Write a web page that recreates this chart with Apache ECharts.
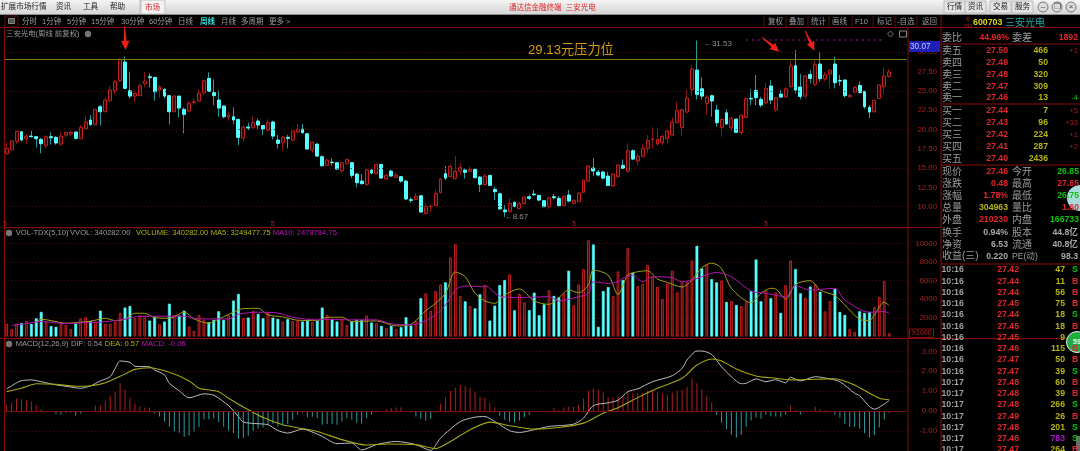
<!DOCTYPE html>
<html>
<head>
<meta charset="utf-8">
<title>三安光电 周线</title>
<script src="https://cdn.jsdelivr.net/npm/echarts@6/dist/echarts.min.js"></script>
<style>
  html, body { margin: 0; padding: 0; background: #000; overflow: hidden; }
  #chart { width: 1080px; height: 451px; filter: blur(0.3px); }
</style>
</head>
<body>
<div id="chart"></div>
<script>
// ── DATA ───────────────────────────────────────────
const opens = [
  16.86,17.38,18.46,19.71,18.81,19.15,19.07,18.72,17.90,19.07,
  18.98,18.12,19.28,19.41,19.67,18.81,20.10,21.23,20.62,22.95,
  22.30,23.73,25.02,26.32,28.74,25.02,24.33,24.38,25.93,26.84,
  26.75,25.11,25.20,24.38,22.30,24.33,22.61,22.39,23.51,23.69,
  24.77,26.62,24.77,23.82,23.04,21.57,21.66,21.31,18.89,20.32,
  20.23,21.10,20.53,19.93,20.97,18.64,18.29,18.98,18.64,19.67,
  20.06,19.45,17.34,18.12,16.48,15.35,15.78,15.70,14.66,15.57,
  15.70,14.23,13.32,12.89,14.75,14.27,15.48,13.58,14.62,13.80,
  13.89,13.32,10.91,10.95,11.42,9.13,10.00,10.17,11.81,14.27,
  13.89,13.63,14.62,14.75,14.58,14.84,13.84,12.85,14.06,12.24,
  11.68,9.57,9.35,10.56,9.78,10.39,11.29,11.64,11.47,10.78,
  10.00,11.29,11.08,10.13,11.51,10.43,10.65,11.86,13.32,15.01,
  14.49,14.49,13.97,12.68,13.89,15.35,14.58,17.25,15.91,16.52,
  17.55,18.72,18.12,18.29,18.85,19.28,20.92,20.28,22.26,25.20,
  27.70,25.28,23.38,24.38,22.52,20.28,22.17,20.23,21.35,19.58,
  21.57,24.03,25.07,23.90,23.43,25.63,22.52,24.59,24.20,25.54,
  28.26,25.50,24.33,27.14,25.85,28.48,26.54,27.18,28.48,26.36,
  26.41,24.25,24.85,25.71,24.94,22.87,22.30,24.03,25.54,26.85
];
const closes = [
  17.55,18.51,19.76,18.64,19.15,19.07,18.81,18.16,19.07,18.94,
  18.25,19.15,19.63,19.63,18.85,20.28,20.97,20.66,22.61,22.30,
  23.82,25.11,26.19,29.08,25.33,24.33,24.68,25.67,26.28,26.71,
  24.89,25.54,24.33,22.30,24.33,22.78,21.96,23.38,23.60,24.68,
  26.32,24.94,24.38,22.78,21.66,21.87,21.23,18.98,20.28,20.19,
  20.92,20.58,20.06,20.92,19.15,18.20,18.98,18.85,19.80,20.02,
  19.58,17.47,18.38,16.56,15.31,16.04,15.70,14.88,15.70,16.13,
  14.06,13.11,12.98,14.79,14.36,15.48,13.71,14.06,13.97,14.10,
  13.32,10.99,10.82,11.34,9.31,10.04,10.09,11.73,13.58,13.71,
  15.22,14.58,15.05,14.45,14.84,13.76,12.89,13.97,12.76,11.94,
  9.70,9.35,10.43,10.04,10.39,11.25,11.08,11.55,10.86,10.00,
  11.16,11.16,10.13,11.34,10.73,10.82,11.77,13.45,15.27,14.62,
  14.10,13.71,12.76,14.19,15.40,14.96,17.25,16.17,16.56,17.55,
  18.59,18.81,18.72,19.11,19.80,20.97,22.48,22.56,24.07,27.83,
  24.55,24.33,24.16,23.69,20.88,21.31,20.71,21.44,19.63,21.87,
  23.99,23.95,24.12,23.17,25.33,23.82,24.12,24.20,25.28,28.22,
  25.11,24.29,26.93,26.62,28.39,26.58,27.10,27.66,26.06,26.28,
  24.38,24.42,25.46,24.77,22.95,22.26,23.77,25.76,26.93,27.46
];
const lows = [
  16.78,17.25,18.12,18.46,18.12,18.98,17.68,16.91,17.60,18.07,
  18.03,17.86,18.94,19.20,18.72,18.81,20.02,20.45,20.53,20.53,
  22.26,23.60,24.59,26.23,25.28,23.99,23.60,24.33,25.46,25.46,
  23.73,24.16,24.03,20.66,22.26,21.57,19.50,22.30,23.17,23.64,
  24.46,24.85,23.17,21.66,21.44,21.14,20.71,17.99,18.42,19.93,
  20.15,20.02,19.28,19.71,18.72,17.55,17.25,17.55,18.42,19.50,
  19.50,17.42,16.99,16.48,15.18,15.27,15.35,14.75,14.32,15.53,
  13.71,12.50,12.89,12.76,14.19,14.19,13.63,13.45,13.89,13.71,
  13.11,10.86,10.52,10.86,9.22,9.00,9.31,10.09,11.73,13.45,
  13.80,13.54,14.10,13.63,14.49,13.67,11.90,12.76,12.68,10.86,
  9.61,8.67,9.26,9.91,9.65,10.35,10.86,11.38,10.69,9.91,
  9.70,10.95,10.04,10.09,10.60,10.35,10.60,11.81,13.24,13.97,
  13.89,13.54,12.68,12.59,13.80,14.92,14.40,16.04,15.35,16.39,
  16.99,17.55,17.94,17.94,18.20,19.15,20.79,19.20,22.09,24.33,
  23.90,23.90,21.87,21.66,20.36,19.07,20.66,19.71,19.58,19.28,
  21.48,23.17,23.12,22.87,23.30,23.30,22.30,24.12,24.12,25.46,
  24.68,23.90,23.99,25.97,25.63,26.19,26.28,25.28,25.33,25.63,
  24.16,24.16,24.68,24.68,22.69,21.48,22.17,23.95,24.59,26.75
];
const highs = [
  18.29,18.64,19.84,19.80,19.41,19.84,19.15,18.89,19.28,19.63,
  19.15,19.71,19.71,19.84,19.76,20.58,21.74,21.87,22.69,23.17,
  24.16,25.63,26.49,29.26,29.43,27.49,24.94,25.97,27.49,27.27,
  26.84,25.76,25.33,24.46,24.42,24.33,22.87,23.73,24.03,25.20,
  26.49,27.40,26.49,25.11,23.12,22.30,22.87,21.40,20.58,20.88,
  21.79,21.44,20.58,21.31,21.14,19.28,19.15,19.28,19.84,20.71,
  20.71,19.50,18.46,18.16,16.65,16.22,16.30,15.78,15.78,16.17,
  15.78,14.40,14.23,14.88,14.88,15.61,15.53,14.23,14.79,14.45,
  13.97,13.45,11.21,11.81,11.51,10.43,10.26,12.16,13.71,15.27,
  15.48,16.56,15.61,14.96,15.18,14.92,13.97,14.32,14.14,12.59,
  11.81,10.21,11.12,10.69,10.69,11.38,11.55,12.16,11.55,10.86,
  11.29,11.64,11.38,11.47,12.16,10.95,11.86,13.54,15.40,16.30,
  14.75,14.66,14.49,14.32,15.53,16.13,18.20,17.43,16.91,18.07,
  19.28,20.28,20.19,19.33,20.02,21.57,23.60,22.65,25.11,28.35,
  31.53,26.75,24.46,24.46,23.17,21.57,22.61,21.66,21.44,22.00,
  24.16,25.20,27.05,24.25,26.06,26.41,24.25,25.11,25.46,28.91,
  30.29,27.18,27.10,27.70,28.91,29.99,27.44,27.79,29.43,27.05,
  26.49,24.68,25.63,26.23,25.02,23.17,23.86,25.85,28.00,27.85
];
const volumes = [
  1390,790,1390,1430,1680,1360,1960,2640,1610,1110,
  1040,1390,1250,790,1390,1960,2070,1680,1610,2780,
  1360,1360,1610,2530,3110,3280,1960,2250,2210,1710,
  2140,1320,1610,3530,2320,2250,2780,1070,610,2320,
  1790,1540,1790,2710,1790,2320,3860,4570,2030,2030,
  2750,2430,1960,2610,2030,1890,1610,1860,1680,1680,
  1610,1750,1570,1710,3110,2320,1860,1610,1890,1250,
  1610,1790,1790,2250,1500,1430,1140,930,1140,820,
  1000,2070,1180,1710,4110,4640,2750,4890,5600,5820,
  8500,9920,4360,3780,3280,3030,4530,5530,1710,3320,
  5530,6070,6680,2820,4570,3680,2820,4710,2280,3460,
  4960,4360,4210,4640,7070,3390,5600,7250,10350,9890,
  1040,4890,5320,4360,7000,6070,9530,6850,5430,5680,
  7680,6430,5360,4030,5710,7070,4750,5820,5890,8180,
  9750,7320,7750,6180,5820,6030,3710,3820,3390,3280,
  3750,4890,8280,3780,4930,4110,4750,2530,5530,8180,
  7250,4640,4180,5360,5600,4820,2710,3820,5110,2640,
  2320,790,500,2710,2530,2640,3180,4250,5960,340
];
const macdBars = [
  0.32,0.43,0.63,0.58,0.55,0.48,0.30,0.10,0.02,0,
  -0.15,-0.18,-0.08,-0.07,-0.22,-0.12,-0.02,0.01,0.27,0.30,
  0.53,0.77,0.98,1.40,1.07,0.67,0.37,0.25,0.18,0.17,
  -0.12,-0.27,-0.52,-0.77,-1.02,-1.08,-1.30,-1.23,-1.02,-0.80,
  -0.40,-0.40,-0.37,-0.55,-0.77,-0.98,-1.10,-1.37,-1.35,-1.23,
  -0.98,-0.88,-0.82,-0.68,-0.63,-0.77,-0.65,-0.65,-0.43,-0.18,
  -0.07,-0.30,-0.28,-0.35,-0.68,-0.65,-0.65,-0.68,-0.52,-0.35,
  -0.43,-0.58,-0.63,-0.35,-0.18,0.03,0,0.10,0.17,0.18,
  0.20,0,-0.07,-0.27,-0.38,-0.47,-0.38,-0.05,0.37,0.68,
  1.03,1.17,1.32,1.27,1.17,0.98,0.72,0.68,0.43,0.20,
  -0.23,-0.43,-0.53,-0.57,-0.47,-0.30,-0.18,-0.02,0,0.02,
  0.01,0.17,0.05,0.18,0.22,0.23,0.32,0.62,1.02,1.15,
  1.08,0.95,0.70,0.70,0.75,0.75,0.92,0.90,0.90,0.90,
  1.03,1.02,0.98,0.87,0.82,0.93,1.03,1.08,1.22,1.65,
  1.40,1.10,0.77,0.42,-0.18,-0.58,-0.90,-1.18,-1.32,-1.18,
  -0.78,-0.47,-0.32,-0.38,-0.18,-0.25,-0.27,-0.28,-0.18,0.27,
  0.07,-0.17,0.02,0.02,0.22,0.10,0.05,0.02,-0.18,-0.32,
  -0.65,-0.78,-0.80,-0.88,-1.10,-1.32,-1.20,-0.82,-0.42,-0.08
];
// lines are read at the turning points: [bar index, value]
const ma5Line = [
  [6,1540],[7,1860],[9,1710],[12,1430],[15,1540],[17,1640],[20,1960],[22,1710],[24,1860],[26,2500],
  [28,2500],[30,2030],[33,1960],[36,2610],[38,1890],[41,1430],[43,1860],[46,2610],[48,3000],[51,3030],
  [53,2320],[56,2110],[59,1750],[63,1710],[65,2070],[68,2070],[70,1610],[75,1680],[79,1140],[82,1320],
  [85,2780],[87,3570],[89,4640],[91,6930],[93,6430],[95,4640],[97,3820],[99,3570],[101,4460],[104,5110],
  [107,3820],[110,3460],[112,4180],[114,5000],[116,4710],[118,5530],[119,7140],[122,6600],[124,4530],[126,6600],
  [128,6960],[130,7070],[132,6180],[134,5820],[137,5320],[139,6070],[141,7390],[143,7890],[145,7320],[147,5180],
  [151,3640],[153,4640],[155,5180],[156,5110],[158,4030],[160,5600],[163,6000],[165,5000],[168,4390],[170,3390],
  [173,1860],[175,1710],[176,2320],[178,3680],[179,3320]
];
const ma10Line = [
  [1,1180],[4,1390],[7,1610],[12,1390],[15,1460],[19,1540],[24,1860],[27,2180],[30,2180],[36,2180],
  [39,1890],[45,1890],[47,2390],[51,2610],[55,2530],[58,2070],[63,1790],[65,1860],[70,1790],[75,1790],
  [78,1360],[82,1250],[86,1960],[89,3390],[91,5000],[93,5430],[96,5360],[97,5430],[100,4360],[104,4180],
  [110,4280],[112,3820],[116,4280],[118,4640],[119,5890],[122,5710],[124,5890],[125,6250],[127,6600],[129,5890],
  [131,6430],[135,6320],[137,5890],[140,6250],[144,6890],[147,6430],[151,4890],[154,4640],[158,4280],[160,5460],
  [163,5000],[168,5180],[170,3930],[175,2610],[178,2680],[179,2500]
];
const difLine = [
  [0,1.12],[2,1.42],[3,1.53],[5,1.57],[7,1.48],[10,1.32],[12,1.25],[15,1.15],[17,1.27],[19,1.52],
  [21,1.73],[22,2.15],[23,2.52],[25,2.45],[26,2.25],[29,2.23],[30,2.07],[32,1.82],[33,1.40],[35,1.02],
  [37,0.67],[40,0.87],[42,0.80],[45,0.28],[47,-0.27],[48,-0.55],[51,-0.63],[53,-0.68],[55,-0.97],[57,-1.10],
  [60,-0.90],[63,-1.15],[64,-1.27],[67,-1.63],[70,-1.60],[72,-1.95],[75,-1.68],[79,-1.52],[83,-1.68],[86,-1.97],
  [88,-1.35],[92,-0.52],[95,-0.30],[97,-0.27],[99,-0.52],[102,-0.98],[104,-1.07],[107,-0.93],[110,-0.77],[115,-0.65],
  [117,-0.35],[119,0.28],[122,0.42],[124,0.55],[126,0.98],[128,1.12],[131,1.48],[135,1.78],[137,2.15],[138,2.57],
  [140,3.02],[141,3.02],[143,2.85],[145,2.23],[147,1.73],[149,1.38],[150,1.40],[152,1.62],[154,1.48],[156,1.58],
  [158,1.42],[159,1.70],[161,1.52],[164,1.73],[167,1.62],[169,1.48],[172,0.90],[173,0.78],[175,0.23],[176,0.10],[179,0.54]
];
const deaLine = [
  [0,0.98],[3,1.15],[6,1.38],[10,1.35],[14,1.25],[17,1.28],[20,1.43],[24,1.87],[26,2.10],[29,2.18],
  [33,1.95],[37,1.52],[39,1.15],[43,0.98],[45,0.65],[49,0.07],[52,-0.32],[56,-0.68],[59,-0.83],[63,-1.02],
  [68,-1.43],[73,-1.70],[77,-1.65],[83,-1.68],[87,-1.88],[90,-1.52],[94,-0.93],[98,-0.55],[102,-0.73],[107,-0.90],
  [112,-0.82],[117,-0.60],[121,-0.10],[124,0.17],[128,0.68],[132,1.15],[137,1.65],[140,2.32],[143,2.62],[145,2.52],
  [148,2.12],[152,1.77],[156,1.65],[159,1.57],[164,1.60],[168,1.63],[172,1.32],[175,0.90],[177,0.65],[179,0.57]
];
const priceLevels = [10, 15, 20, 25, 30];
const pressureLevel = 29.13;

// quote panel
const bookLabels = ['卖五','卖四','卖三','卖二','卖一','买一','买二','买三','买四','买五'];
const bookPrices = ['27.50','27.49','27.48','27.47','27.46','27.44','27.43','27.42','27.41','27.40'];
const bookVols   = ['466','50','320','309','13','7','96','224','287','2436'];
const bookDeltas = ['+1','','','','-4','+5','+33','+1','+2',''];
const tickTimes  = ['10:16','10:16','10:16','10:16','10:16','10:16','10:16','10:16','10:16','10:16','10:17','10:17','10:17','10:17','10:17','10:17','10:17'];
const tickPrices = ['27.42','27.44','27.44','27.45','27.44','27.45','27.45','27.46','27.47','27.47','27.48','27.48','27.48','27.49','27.48','27.46','27.47'];
const tickVols   = ['47','11','56','75','18','18','9','115','50','39','60','39','266','26','201','783','264'];
const tickSides  = ['S','B','B','B','S','B','S','B','B','S','B','B','S','B','S','S','B'];

// ── STYLE ──────────────────────────────────────────
const FONT = '"Liberation Sans","Noto Sans CJK SC",sans-serif';
const FRAME = '#8a0c0c';
const GRID = '#560e0e';
const AXIS_TXT = '#a82222';
const CYAN = '#55ffff';
const TEAL = '#2a9a9e';
const RED = '#c42020';
const DIMRED = '#8a1616';
const GRAY = '#9c9c9c';
const P_RED = '#e0262c';
const P_YEL = '#b4b412';
const P_GRN = '#0cc40c';

const categories = Array.from({ length: 183 }, (_, i) => String(i));
const isUp = i => closes[i] >= opens[i];
const wickData = opens.map((o, i) => [o, closes[i], lows[i], highs[i]]);
const bodyData = opens.map((o, i) => {
  const top = Math.max(o, closes[i]), bot = Math.min(o, closes[i]);
  return [o, closes[i], bot, top];
});

// ── GRAPHIC HELPERS ────────────────────────────────
const gfx = [];
function txt(text, x, y, fill, size, align, weight) {
  gfx.push({
    type: 'text', x, y, z: 20, silent: true,
    style: {
      text, fill, font: `${weight || 'normal'} ${size}px ${FONT}`,
      align: align || 'left', verticalAlign: 'middle',
      textAlign: align || 'left', textVerticalAlign: 'middle'
    }
  });
}
function rect(x, y, w, h, fill, stroke) {
  gfx.push({ type: 'rect', z: 15, silent: true, shape: { x, y, width: w, height: h },
    style: { fill: fill || 'none', stroke: stroke || 'none', lineWidth: 1 } });
}
function hline(x0, x1, y, color) {
  gfx.push({ type: 'line', z: 16, silent: true, shape: { x1: x0, y1: y, x2: x1, y2: y },
    style: { stroke: color || FRAME, lineWidth: 1 } });
}
function vline(x, y0, y1, color) {
  gfx.push({ type: 'line', z: 16, silent: true, shape: { x1: x, y1: y0, x2: x, y2: y1 },
    style: { stroke: color || FRAME, lineWidth: 1 } });
}
function dot(x, y, r, fill, stroke) {
  gfx.push({ type: 'circle', z: 17, silent: true, shape: { cx: x, cy: y, r },
    style: { fill, stroke: stroke || 'none', lineWidth: 1 } });
}
function arrow(x0, y0, x1, y1) {
  const dx = x1 - x0, dy = y1 - y0, len = Math.hypot(dx, dy);
  const ux = dx / len, uy = dy / len, nx = -uy, ny = ux;
  const hb = len - 9;
  const pts = [
    [x0 + nx * 0.4, y0 + ny * 0.4], [x0 - nx * 0.4, y0 - ny * 0.4],
    [x0 + ux * hb - nx * 1.4, y0 + uy * hb - ny * 1.4], [x0 + ux * hb - nx * 4.2, y0 + uy * hb - ny * 4.2],
    [x1, y1],
    [x0 + ux * hb + nx * 4.2, y0 + uy * hb + ny * 4.2], [x0 + ux * hb + nx * 1.4, y0 + uy * hb + ny * 1.4]
  ];
  gfx.push({ type: 'polygon', z: 18, silent: true, shape: { points: pts }, style: { fill: '#ea1f18' } });
}

// ── WINDOW CHROME ──────────────────────────────────
gfx.push({
  type: 'rect', z: 14, silent: true, shape: { x: 0, y: 0, width: 1080, height: 14 },
  style: { fill: { type: 'linear', x: 0, y: 0, x2: 0, y2: 1,
    colorStops: [{ offset: 0, color: '#f4f4f4' }, { offset: 1, color: '#d6d6d6' }] } }
});
hline(0, 1080, 14.5, '#8c8c8c');
rect(141, 0, 24, 14, '#f2f2f2', '#c4c4c4');
vline(140, 0, 14, '#b8b8b8');
[['扩展市场行情', 1], ['资讯', 56], ['工具', 83], ['帮助', 110]].forEach(([s, x]) => txt(s, x, 7, '#222', 7.6));
txt('市场', 145, 7.5, '#e02020', 7.6);
txt('通达信金融终端  三安光电', 509, 7.5, '#e02020', 7.5);
[['行情', 947], ['资讯', 968], ['交易', 993], ['服务', 1015]].forEach(([s, x]) => {
  rect(x - 3, 1, 21, 12, '#e4e4e4', '#bdbdbd');
  txt(s, x, 7, '#222', 7.6);
});
[[1043, '–'], [1057, '❐'], [1071, '×']].forEach(([x, s]) => {
  dot(x, 7, 5, '#dcdcdc', '#777');
  txt(s, x, 7, '#444', 8, 'center');
});

// toolbar under the title bar
rect(5, 16, 13, 11, '#000', '#5a0c0c');
rect(8.5, 18.5, 6, 5, '#555', '#888');
[['分时', 22], ['1分钟', 42], ['5分钟', 67], ['15分钟', 91], ['30分钟', 121], ['60分钟', 149],
 ['日线', 178], ['月线', 221], ['多周期', 241], ['更多 >', 269]].forEach(([s, x]) => txt(s, x, 21.5, GRAY, 7.5));
txt('周线', 200, 21.5, '#38d8d8', 7.5, 'left', 'bold');
[['复权', 768], ['叠加', 789], ['统计', 811], ['画线', 832], ['F10', 855], ['标记', 877], ['-自选', 897], ['返回', 922]]
  .forEach(([s, x]) => txt(s, x, 21.5, GRAY, 7.5));
[764, 786, 808, 829, 852, 873, 895, 917].forEach(x => vline(x, 16, 27, '#5a0c0c'));

// ── PANEL FRAME ────────────────────────────────────
hline(0, 1080, 27.5);
hline(4, 941, 227.5);
hline(0, 1080, 338.5);
vline(4.5, 28, 451);
vline(908, 28, 451);
vline(941, 15, 451);
[44, 104, 165, 264].forEach(y => hline(941, 1080, y));

// ── MAIN PANEL TEXT ────────────────────────────────
txt('三安光电(周线 前复权)', 6, 34, GRAY, 7.4);
dot(88, 34, 3.2, '#777');
txt('29.13元压力位', 528, 50, '#d49a12', 13.2);
[5, 272.7, 574, 766].forEach(x => txt('5', x, 224, '#c02020', 6.5, 'center'));
gfx.push({ type: 'polygon', z: 18, silent: true, shape: { points: [[890.5, 31], [893.5, 34], [890.5, 37], [887.5, 34]] },
  style: { fill: 'none', stroke: '#777', lineWidth: 1 } });
rect(899.5, 31, 7, 6, 'none', '#888');
rect(909, 41, 31, 11, '#1f1fb8');
txt('30.07', 910, 46.8, '#b8d0ff', 8.2);
arrow(124.6, 26, 125.6, 50);
arrow(762, 37.3, 779.3, 51.7);
arrow(805, 30.7, 814.3, 50.7);

// ── INDICATOR LEGENDS ──────────────────────────────
dot(9, 233, 3.2, '#777');
txt('VOL-TDX(5,10)', 15.7, 233, GRAY, 7.6);
txt('VVOL: 340282.00', 70, 233, GRAY, 7.6);
txt('VOLUME: 340282.00', 136, 233, P_YEL, 7.6);
txt('MA5: 3249477.75', 210.7, 233, P_YEL, 7.6);
txt('MA10: 2478784.75', 272.7, 233, '#b818b8', 7.6);
dot(9, 344, 3.2, '#777');
txt('MACD(12,26,9)', 15.7, 344, GRAY, 7.6);
txt('DIF: 0.54', 71, 344, GRAY, 7.6);
txt('DEA: 0.57', 104.7, 344, P_YEL, 7.6);
txt('MACD: -0.06', 141.7, 344, '#b818b8', 7.6);
rect(909.5, 329, 24, 8.5, '#000', FRAME);
txt('X1000', 921.5, 333.5, AXIS_TXT, 7, 'center');

// ── QUOTE PANEL ────────────────────────────────────
txt('R', 968, 19.5, '#c02020', 5, 'center');
txt('300', 968, 26.5, '#c02020', 5, 'center');
txt('600703', 973, 23, '#d8d820', 8.8, 'left', 'bold');
txt('三安光电', 1005, 23, '#20a8a8', 10);
txt('委比', 942, 38, GRAY, 10);
txt('44.96%', 1009, 38, P_RED, 8.7, 'right', 'bold');
txt('委差', 1012, 38, GRAY, 10);
txt('1892', 1078, 38, P_RED, 8.7, 'right', 'bold');

const bookRows = [51, 63, 75, 87, 98, 111, 123, 135, 147, 159];
bookLabels.forEach((lab, i) => {
  const y = bookRows[i];
  txt(lab, 942, y, GRAY, 10);
  txt(bookPrices[i], 1008, y, P_RED, 8.7, 'right', 'bold');
  txt(bookVols[i], 1048, y, P_YEL, 8.7, 'right', 'bold');
  if (bookDeltas[i]) txt(bookDeltas[i], 1078, y, bookDeltas[i][0] === '+' ? '#a81c1c' : P_GRN, 7.6, 'right');
});

[[172, '现价', '27.46', P_RED, '今开', '26.85', P_GRN],
 [184, '涨跌', '0.48', P_RED, '最高', '27.85', P_RED],
 [196, '涨幅', '1.78%', P_RED, '最低', '26.75', P_GRN],
 [208, '总量', '304963', P_YEL, '量比', '1.60', P_RED],
 [220, '外盘', '210230', P_RED, '内盘', '166733', P_GRN]].forEach(([y, a, b, c, d, e, f]) => {
  txt(a, 942, y, GRAY, 10);
  txt(b, 1008, y, c, 8.7, 'right', 'bold');
  txt(d, 1012, y, GRAY, 10);
  txt(e, 1079, y, f, 8.7, 'right', 'bold');
});
[[233, '换手', '0.94%', '股本', '44.8亿'],
 [245, '净资', '6.53', '流通', '40.8亿'],
 [256.5, '收益(三)', '0.220', 'PE(动)', '98.3']].forEach(([y, a, b, d, e]) => {
  txt(a, 942, y, GRAY, 10);
  txt(b, 1008, y, '#a8a8a8', 8.7, 'right', 'bold');
  txt(d, 1012, y, GRAY, d.length > 2 ? 8.6 : 10);
  txt(e, 1078, y, '#a8a8a8', 8.7, 'right', 'bold');
});

tickTimes.forEach((t, i) => {
  const y = 270 + i * 11.25;
  txt(t, 941.5, y, '#a0a0a0', 8.7, 'left', 'bold');
  txt(tickPrices[i], 1019, y, P_RED, 8.7, 'right', 'bold');
  txt(tickVols[i], 1065, y, tickVols[i] === '783' ? '#b010d0' : P_YEL, 8.7, 'right', 'bold');
  txt(tickSides[i], 1072, y, tickSides[i] === 'S' ? P_GRN : P_RED, 8.7, 'left', 'bold');
});

// floating badges on the right edge
dot(1080, 198, 13, '#a8dcdc');
dot(1077, 342, 10.5, '#22a84a', '#e8f0e8');
txt('59', 1077, 342, '#e8ffe8', 7, 'center', 'bold');
rect(1076, 436, 4, 15, '#6a6a6a');

// ── CHART ──────────────────────────────────────────
const gridL = 4.23, gridW = 902.2;
const xAxisBase = gridIndex => ({
  type: 'category', gridIndex, data: categories, boundaryGap: true,
  axisLine: { show: false }, axisTick: { show: false }, axisLabel: { show: false }, splitLine: { show: false }
});
const axisLabelBase = {
  color: AXIS_TXT, fontSize: 7.8, fontFamily: FONT, align: 'right', margin: 30.6, showMaxLabel: false
};

const chart = echarts.init(document.getElementById('chart'), null, { renderer: 'canvas' });
chart.setOption({
  animation: false,
  backgroundColor: '#000',
  grid: [
    { left: gridL, width: gridW, top: 28, height: 198 },
    { left: gridL, width: gridW, top: 228, height: 108.5 },
    { left: gridL, width: gridW, top: 339, height: 112.2 }
  ],
  xAxis: [xAxisBase(0), xAxisBase(1), xAxisBase(2)],
  yAxis: [
    {
      gridIndex: 0, position: 'right', min: 7.5, max: 33.15, interval: 2.5, scale: true,
      axisLine: { show: false }, axisTick: { show: false }, splitLine: { show: false },
      axisLabel: { ...axisLabelBase, formatter: v => (v < 9 || v > 31 ? '' : v.toFixed(2)) }
    },
    {
      gridIndex: 1, position: 'right', min: 0, max: 11667, interval: 2000,
      axisLine: { show: false }, axisTick: { show: false },
      splitLine: { show: true, lineStyle: { color: GRID, type: [1, 2.5] } },
      axisLabel: { ...axisLabelBase, formatter: v => (v === 0 || v > 10000 ? '' : String(v)) }
    },
    {
      gridIndex: 2, position: 'right', min: -2, max: 3.624, interval: 1,
      axisLine: { show: false }, axisTick: { show: false },
      splitLine: { show: true, lineStyle: { color: GRID, type: [1, 2.5] } },
      axisLabel: { ...axisLabelBase, formatter: v => (v === -2 || v > 3.5 ? '' : v.toFixed(2)) }
    }
  ],
  series: [
    // wicks are dimmer than the bodies, so they go in as their own series
    {
      type: 'candlestick', name: 'wick', xAxisIndex: 0, yAxisIndex: 0, barWidth: 1, data: wickData,
      itemStyle: { color: DIMRED, color0: TEAL, borderColor: DIMRED, borderColor0: TEAL, borderWidth: 1 },
      markLine: {
        silent: true, symbol: 'none', animation: false, label: { show: false },
        data: [
          ...priceLevels.map(v => ({ yAxis: v, lineStyle: { color: GRID, type: [1, 2.5], width: 1 } })),
          { yAxis: pressureLevel, lineStyle: { color: '#80800c', type: 'solid', width: 1.2 } },
          [
            { coord: ['150', 31.6], lineStyle: { color: '#8a108a', type: [1.6, 4.2], width: 1.6 } },
            { coord: ['178', 31.6] }
          ]
        ]
      },
      markPoint: {
        silent: true, animation: false, symbolSize: 0,
        data: [
          { coord: ['140', 31.53], value: 31.53, label: { show: true, position: 'right', distance: 7, offset: [0, 3], formatter: '←31.53', color: '#8e8e8e', fontSize: 8, fontFamily: FONT } },
          { coord: ['101', 8.67], value: 8.67, label: { show: true, position: 'right', distance: 0, formatter: '←8.67', color: '#8e8e8e', fontSize: 8, fontFamily: FONT } }
        ]
      }
    },
    {
      type: 'candlestick', name: 'body', xAxisIndex: 0, yAxisIndex: 0, barWidth: 3.4, data: bodyData,
      itemStyle: { color: '#2a0606', color0: CYAN, borderColor: RED, borderColor0: CYAN, borderWidth: 1 }
    },
    {
      type: 'bar', xAxisIndex: 1, yAxisIndex: 1, barWidth: 2.8,
      data: volumes.map((v, i) => ({
        value: v,
        itemStyle: isUp(i)
          ? { color: '#3a0808', borderColor: RED, borderWidth: 1 }
          : { color: CYAN, borderColor: CYAN, borderWidth: 0.6 }
      }))
    },
    { type: 'line', xAxisIndex: 1, yAxisIndex: 1, data: ma5Line, smooth: 0.3, showSymbol: false, lineStyle: { color: '#a0a014', width: 1 } },
    { type: 'line', xAxisIndex: 1, yAxisIndex: 1, data: ma10Line, smooth: 0.3, showSymbol: false, lineStyle: { color: '#b414b4', width: 1 } },
    {
      type: 'bar', xAxisIndex: 2, yAxisIndex: 2, barWidth: 1,
      data: macdBars.map(v => ({ value: v, itemStyle: { color: v >= 0 ? '#b02020' : TEAL } })),
      markLine: {
        silent: true, symbol: 'none', animation: false, label: { show: false },
        lineStyle: { color: '#7a1010', type: 'solid', width: 1 },
        data: [{ yAxis: 0 }]
      }
    },
    { type: 'line', xAxisIndex: 2, yAxisIndex: 2, data: difLine, smooth: 0.25, showSymbol: false, lineStyle: { color: '#bcbcbc', width: 1 } },
    { type: 'line', xAxisIndex: 2, yAxisIndex: 2, data: deaLine, smooth: 0.25, showSymbol: false, lineStyle: { color: '#a8a812', width: 1.1 } }
  ],
  graphic: { elements: gfx }
});
</script>
</body>
</html>
